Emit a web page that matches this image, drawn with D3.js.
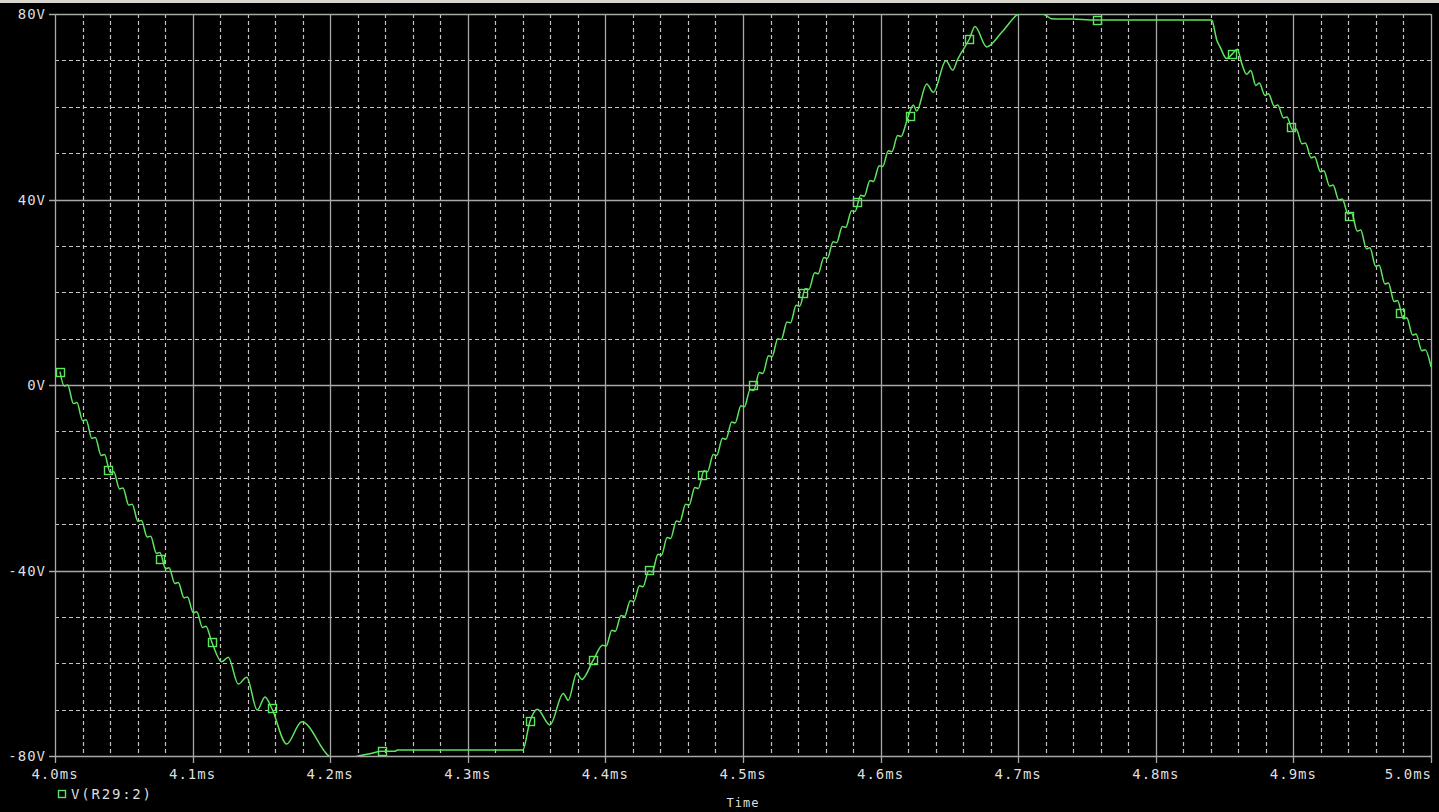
<!DOCTYPE html>
<html>
<head>
<meta charset="utf-8">
<script src="https://cdn.jsdelivr.net/npm/d3@7"></script>
<style>
  html, body { margin: 0; padding: 0; background: #000; overflow: hidden; }
  svg { display: block; }
</style>
</head>
<body>
<svg id="chart" width="1439" height="812"></svg>
<script>
// ---------------- DATA ----------------
const xTickValues = [4.0, 4.1, 4.2, 4.3, 4.4, 4.5, 4.6, 4.7, 4.8, 4.9, 5.0];
const xTickLabels = ["4.0ms", "4.1ms", "4.2ms", "4.3ms", "4.4ms", "4.5ms", "4.6ms", "4.7ms", "4.8ms", "4.9ms", "5.0ms"];
const yTickValues = [80, 40, 0, -40, -80];
const yTickLabels = ["80V", "40V", "0V", "-40V", "-80V"];
const seriesName = "V(R29:2)";
const xTitle = "Time";

// trace V(R29:2): [time (ms), voltage (V)]
const traceV = [
  [4.0036, 2.9], [4.0067, -0.2], [4.0092, 0.0], [4.0134, -4.0], [4.0159, -3.8],
  [4.0201, -7.7], [4.0226, -7.5], [4.0268, -11.5], [4.0293, -11.3], [4.0335, -15.2],
  [4.0360, -15.0], [4.0402, -18.9], [4.0427, -18.7], [4.0469, -22.4], [4.0494, -22.2],
  [4.0536, -25.9], [4.0561, -25.7], [4.0603, -29.4], [4.0628, -29.2], [4.0670, -32.8],
  [4.0695, -32.6], [4.0737, -36.3], [4.0762, -36.1], [4.0804, -39.6], [4.0829, -39.4],
  [4.0871, -42.8], [4.0896, -42.6], [4.0938, -45.9], [4.0963, -45.7], [4.1005, -49.1],
  [4.1030, -48.9], [4.1072, -52.3], [4.1097, -52.0], [4.1139, -55.4],
  [4.1211, -59.7], [4.1259, -58.7], [4.1332, -64.5], [4.1393, -63.0], [4.1470, -70.1],
  [4.1526, -67.3], [4.1575, -69.7], [4.1684, -77.4], [4.1793, -72.6], [4.1999, -80.2],
  [4.2080, -80.8], [4.2150, -80.5], [4.2192, -80.1], [4.2290, -79.5], [4.2374, -79.0],
  [4.2470, -79.0], [4.2490, -78.7], [4.3399, -78.7],
  [4.3452, -72.5], [4.3505, -69.9], [4.3597, -73.3], [4.3694, -66.5], [4.3730, -68.0],
  [4.3791, -62.2], [4.3828, -63.5], [4.3912, -59.3],
  [4.3980, -56.1], [4.4005, -56.3], [4.4047, -52.9], [4.4072, -53.1], [4.4114, -49.7],
  [4.4139, -49.9], [4.4181, -46.5], [4.4206, -46.7], [4.4248, -43.3], [4.4273, -43.5],
  [4.4315, -40.1], [4.4340, -40.3], [4.4382, -36.5], [4.4407, -36.7], [4.4449, -32.9],
  [4.4474, -33.1], [4.4516, -29.3], [4.4541, -29.5], [4.4583, -25.7], [4.4608, -25.9],
  [4.4650, -22.1], [4.4675, -22.3], [4.4717, -18.5], [4.4742, -18.7], [4.4784, -15.0],
  [4.4809, -15.2], [4.4851, -11.5], [4.4876, -11.7], [4.4918, -8.0], [4.4943, -8.2],
  [4.4985, -4.5], [4.5010, -4.7], [4.5052, -1.0], [4.5077, -1.2], [4.5119, 2.7],
  [4.5144, 2.5], [4.5186, 6.3], [4.5211, 6.1], [4.5253, 10.0], [4.5278, 9.8],
  [4.5320, 13.6], [4.5345, 13.4], [4.5387, 17.2], [4.5412, 17.0], [4.5454, 20.8],
  [4.5479, 20.6], [4.5521, 24.2], [4.5546, 24.0], [4.5588, 27.5], [4.5613, 27.3],
  [4.5655, 30.9], [4.5680, 30.7], [4.5722, 34.2], [4.5747, 34.0], [4.5789, 37.6],
  [4.5814, 37.4], [4.5856, 40.9], [4.5881, 40.7], [4.5923, 44.1], [4.5948, 43.9],
  [4.5990, 47.3], [4.6015, 47.1], [4.6057, 50.5], [4.6082, 50.3], [4.6124, 53.8],
  [4.6149, 53.6], [4.6191, 57.0],
  [4.6238, 60.4], [4.6262, 59.1], [4.6335, 64.9], [4.6383, 63.1], [4.6475, 69.9],
  [4.6524, 67.9], [4.6561, 70.3], [4.6645, 74.6], [4.6686, 77.3], [4.6771, 72.9],
  [4.6882, 76.1], [4.7001, 80.0], [4.7090, 80.7], [4.7183, 80.0], [4.7208, 79.6],
  [4.7240, 79.0], [4.7398, 78.9], [4.7570, 78.7], [4.8406, 78.7],
  [4.8443, 74.4], [4.8467, 72.9], [4.8515, 70.4], [4.8556, 71.4], [4.8592, 72.4],
  [4.8624, 69.4], [4.8660, 67.0], [4.8690, 67.8], [4.8727, 64.6], [4.8752, 65.1],
  [4.8794, 62.4], [4.8819, 62.8], [4.8861, 60.1], [4.8886, 60.4], [4.8928, 57.6],
  [4.8953, 57.8], [4.8995, 55.0], [4.9020, 55.2], [4.9062, 52.0], [4.9087, 52.2],
  [4.9129, 49.0], [4.9154, 49.2], [4.9196, 46.0], [4.9221, 46.2], [4.9263, 42.9],
  [4.9288, 43.1], [4.9330, 39.9], [4.9355, 40.1], [4.9397, 36.9], [4.9422, 37.1],
  [4.9464, 33.2], [4.9489, 33.4], [4.9531, 29.4], [4.9556, 29.6], [4.9598, 25.6],
  [4.9623, 25.8], [4.9665, 21.8], [4.9690, 22.0], [4.9732, 18.0], [4.9757, 18.2],
  [4.9799, 14.3], [4.9824, 14.5], [4.9866, 10.8], [4.9891, 11.0], [4.9933, 7.4],
  [4.9958, 7.6], [5.0000, 3.9]
];

// sample markers drawn on the trace
const traceMarkers = [
  [4.0036, 2.9], [4.0387, -18.3], [4.0763, -37.5], [4.1143, -55.5], [4.1575, -69.7],
  [4.2374, -79.0], [4.3452, -72.5], [4.3912, -59.3], [4.4319, -39.9], [4.4700, -19.4],
  [4.5070, 0.0], [4.5434, 19.8], [4.5826, 39.4], [4.6214, 58.1], [4.6645, 74.6],
  [4.7570, 78.7], [4.8556, 71.4], [4.8980, 55.7], [4.9406, 36.5], [4.9775, 15.5]
];

// ---------------- DRAW ----------------
const W = 1439, H = 812;
const plot = { left: 55, right: 1431, top: 14, bottom: 756 };
const svg = d3.select("#chart");

const traceColor = "#5ee65e";
const gridSolid = "#a8a8a8";
const gridDot = "#c4c4c4";
const textColor = "#dedede";
const font = "'DejaVu Sans Mono', 'Liberation Mono', monospace";

const x = d3.scaleLinear().domain([4.0, 5.0]).range([plot.left, plot.right]);
const y = d3.scaleLinear().domain([-80, 80]).range([plot.bottom, plot.top]);

svg.append("rect").attr("x", 0).attr("y", 0).attr("width", W).attr("height", H).attr("fill", "#000");
// window strip on top
svg.append("rect").attr("x", 0).attr("y", 0).attr("width", W).attr("height", 3).attr("fill", "#d8d5cc");

const crisp = v => Math.round(v) + 0.5;

// minor (dotted) grid
const minorX = x.ticks(50).filter(t => !xTickValues.some(m => Math.abs(m - t) < 1e-9));
const minorY = y.ticks(16).filter(t => !yTickValues.some(m => Math.abs(m - t) < 1e-9));

const grid = svg.append("g");
grid.selectAll("line.mx").data(minorX).join("line")
  .attr("x1", d => crisp(x(d))).attr("x2", d => crisp(x(d)))
  .attr("y1", plot.top).attr("y2", plot.bottom)
  .attr("stroke", gridDot).attr("stroke-width", 1.2).attr("stroke-dasharray", "4,3");
grid.selectAll("line.my").data(minorY).join("line")
  .attr("y1", d => crisp(y(d))).attr("y2", d => crisp(y(d)))
  .attr("x1", plot.left).attr("x2", plot.right)
  .attr("stroke", gridDot).attr("stroke-width", 1.2).attr("stroke-dasharray", "4,3");

// major (solid) grid
grid.selectAll("line.Mx").data(xTickValues).join("line")
  .attr("x1", d => crisp(x(d))).attr("x2", d => crisp(x(d)))
  .attr("y1", plot.top).attr("y2", plot.bottom + 7)
  .attr("stroke", gridSolid).attr("stroke-width", 1.3);
grid.selectAll("line.My").data(yTickValues).join("line")
  .attr("y1", d => crisp(y(d))).attr("y2", d => crisp(y(d)))
  .attr("x1", plot.left - 6).attr("x2", plot.right)
  .attr("stroke", gridSolid).attr("stroke-width", 1.3);

// trace, clipped to the plot
svg.append("clipPath").attr("id", "plotclip")
  .append("rect").attr("x", plot.left).attr("y", plot.top)
  .attr("width", plot.right - plot.left).attr("height", plot.bottom - plot.top);

const line = d3.line()
  .x(d => x(d[0])).y(d => y(d[1]))
  .curve(d3.curveMonotoneX);

svg.append("path").datum(traceV)
  .attr("clip-path", "url(#plotclip)")
  .attr("d", line)
  .attr("fill", "none")
  .attr("stroke", traceColor)
  .attr("stroke-width", 1.5)
  .attr("stroke-linejoin", "round");

svg.append("g").selectAll("rect").data(traceMarkers).join("rect")
  .attr("x", d => Math.round(x(d[0])) - 4 + 0.5)
  .attr("y", d => Math.round(y(d[1])) - 4 + 0.5)
  .attr("width", 8).attr("height", 8)
  .attr("fill", "none").attr("stroke", traceColor).attr("stroke-width", 1.4);

// axis labels
svg.append("g").selectAll("text").data(xTickValues).join("text")
  .attr("x", (d, i) => i === xTickValues.length - 1 ? plot.right + 1 : x(d))
  .attr("y", 779)
  .attr("text-anchor", (d, i) => i === xTickValues.length - 1 ? "end" : "middle")
  .attr("font-family", font).attr("font-size", 14).attr("letter-spacing", 1)
  .attr("fill", textColor)
  .text((d, i) => xTickLabels[i]);

svg.append("g").selectAll("text").data(yTickValues).join("text")
  .attr("x", 46)
  .attr("y", d => y(d) + 5)
  .attr("text-anchor", "end")
  .attr("font-family", font).attr("font-size", 14).attr("letter-spacing", 1)
  .attr("fill", textColor)
  .text((d, i) => yTickLabels[i]);

// legend
svg.append("rect").attr("x", 58.5).attr("y", 790.5).attr("width", 7).attr("height", 7)
  .attr("fill", "none").attr("stroke", traceColor).attr("stroke-width", 1.4);
svg.append("text").attr("x", 71).attr("y", 799)
  .attr("font-family", font).attr("font-size", 14).attr("letter-spacing", 1.8)
  .attr("fill", textColor).text(seriesName);

// x title
svg.append("text").attr("x", (plot.left + plot.right) / 2).attr("y", 807)
  .attr("text-anchor", "middle")
  .attr("font-family", font).attr("font-size", 12).attr("letter-spacing", 1)
  .attr("fill", textColor).text(xTitle);
</script>
</body>
</html>
